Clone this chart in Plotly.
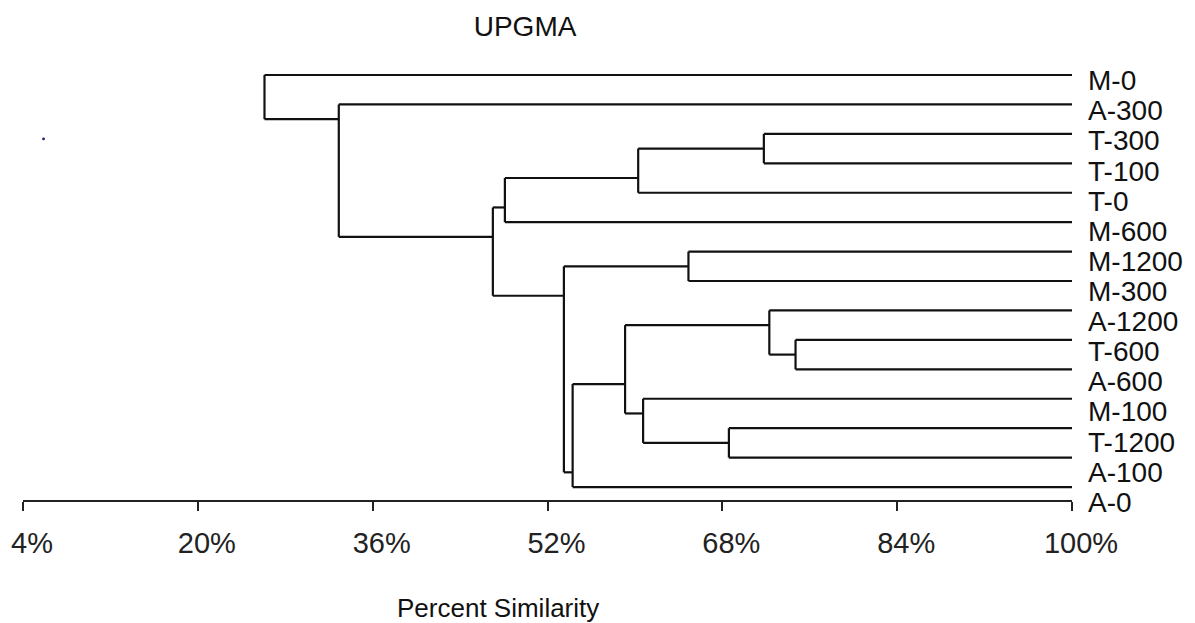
import plotly.graph_objects as go

# ---- data -------------------------------------------------------------
leaves = ["M-0", "A-300", "T-300", "T-100", "T-0", "M-600", "M-1200", "M-300",
          "A-1200", "T-600", "A-600", "M-100", "T-1200", "A-100", "A-0"]

# merges: indices < 15 are leaves, 15+k refers to merge k
merge_left = [2, 15, 16, 6, 9, 8, 12, 11, 20, 23, 18, 17, 1, 0]
merge_right = [3, 4, 5, 7, 10, 19, 13, 21, 22, 14, 24, 25, 26, 27]
merge_sim = [71.8, 60.3, 48.1, 64.9, 74.7, 72.3, 68.6, 60.75, 59.1, 54.3, 53.5, 47.0, 32.9, 26.1]

tick_vals = [4, 20, 36, 52, 68, 84, 100]
tick_text = ["4%", "20%", "36%", "52%", "68%", "84%", "100%"]

# ---- build dendrogram geometry from the merge table -------------------
n = len(leaves)
xpos = {i: 100.0 for i in range(n)}
ypos = {i: float(i) for i in range(n)}
lastleaf = {i: i for i in range(n)}
xs, ys = [], []
for k, (a, b, s) in enumerate(zip(merge_left, merge_right, merge_sim)):
    node = n + k
    xs += [s, s, None]
    ys += [ypos[a], ypos[b], None]
    for c in (a, b):
        xs += [s, xpos[c], None]
        ys += [ypos[c], ypos[c], None]
    xpos[node] = s
    ypos[node] = lastleaf[a] + 0.5
    lastleaf[node] = lastleaf[b]

FONT = "Arial, Liberation Sans, sans-serif"

fig = go.Figure()
fig.add_trace(go.Scatter(x=xs, y=ys, mode="lines",
                         line=dict(color="#111111", width=2.2),
                         hoverinfo="skip", showlegend=False))
fig.add_trace(go.Scatter(x=[100] * n, y=list(range(n)), yaxis="y2",
                         mode="markers", marker=dict(opacity=0),
                         hoverinfo="skip", showlegend=False))

fig.update_layout(
    width=1195, height=623,
    paper_bgcolor="white", plot_bgcolor="white",
    margin=dict(l=23, r=123, t=60, b=93, pad=0),
    font=dict(family=FONT, color="#1a1a1a"),
    title=dict(text="UPGMA", x=0.4786, xref="paper", xanchor="center",
               y=1 - 26 / 623, yref="container", yanchor="middle",
               font=dict(size=28, family=FONT, color="#111")),
    xaxis=dict(range=[4, 100], tickmode="array", tickvals=tick_vals,
               ticktext=tick_text, ticks="outside", ticklen=9, tickwidth=2,
               tickcolor="#222", showline=True, linewidth=2, linecolor="#222",
               showgrid=False, zeroline=False, automargin=False,
               anchor="free", position=29 / 470,
               tickfont=dict(size=29, family=FONT, color="#222"),
               ticklabelshift=9, ticklabelstandoff=7),
    yaxis=dict(range=[15.46, -0.51], showticklabels=False, showgrid=False,
               zeroline=False, showline=False, ticks="", automargin=False),
    yaxis2=dict(range=[14.932, -0.6775], overlaying="y", side="right",
                tickmode="array", tickvals=list(range(n)), ticktext=leaves,
                showgrid=False, zeroline=False, showline=False, ticks="",
                automargin=False, ticklabelstandoff=15,
                tickfont=dict(size=28, family=FONT, color="#111")),
    annotations=[dict(text="Percent Similarity", xref="paper", yref="paper",
                      x=0.453, y=(530 - 608) / 470, xanchor="center",
                      yanchor="middle", showarrow=False,
                      font=dict(size=26, family=FONT, color="#111"))],
    shapes=[dict(type="circle", xref="paper", yref="paper",
                 x0=0.0182, x1=0.0210, y0=0.829, y1=0.835,
                 fillcolor="#2a2a6a", line=dict(width=0))],
)

fig.write_html("out.html",
               config={"displayModeBar": False},
               post_script="document.body.style.margin='0';document.body.style.padding='0';")
